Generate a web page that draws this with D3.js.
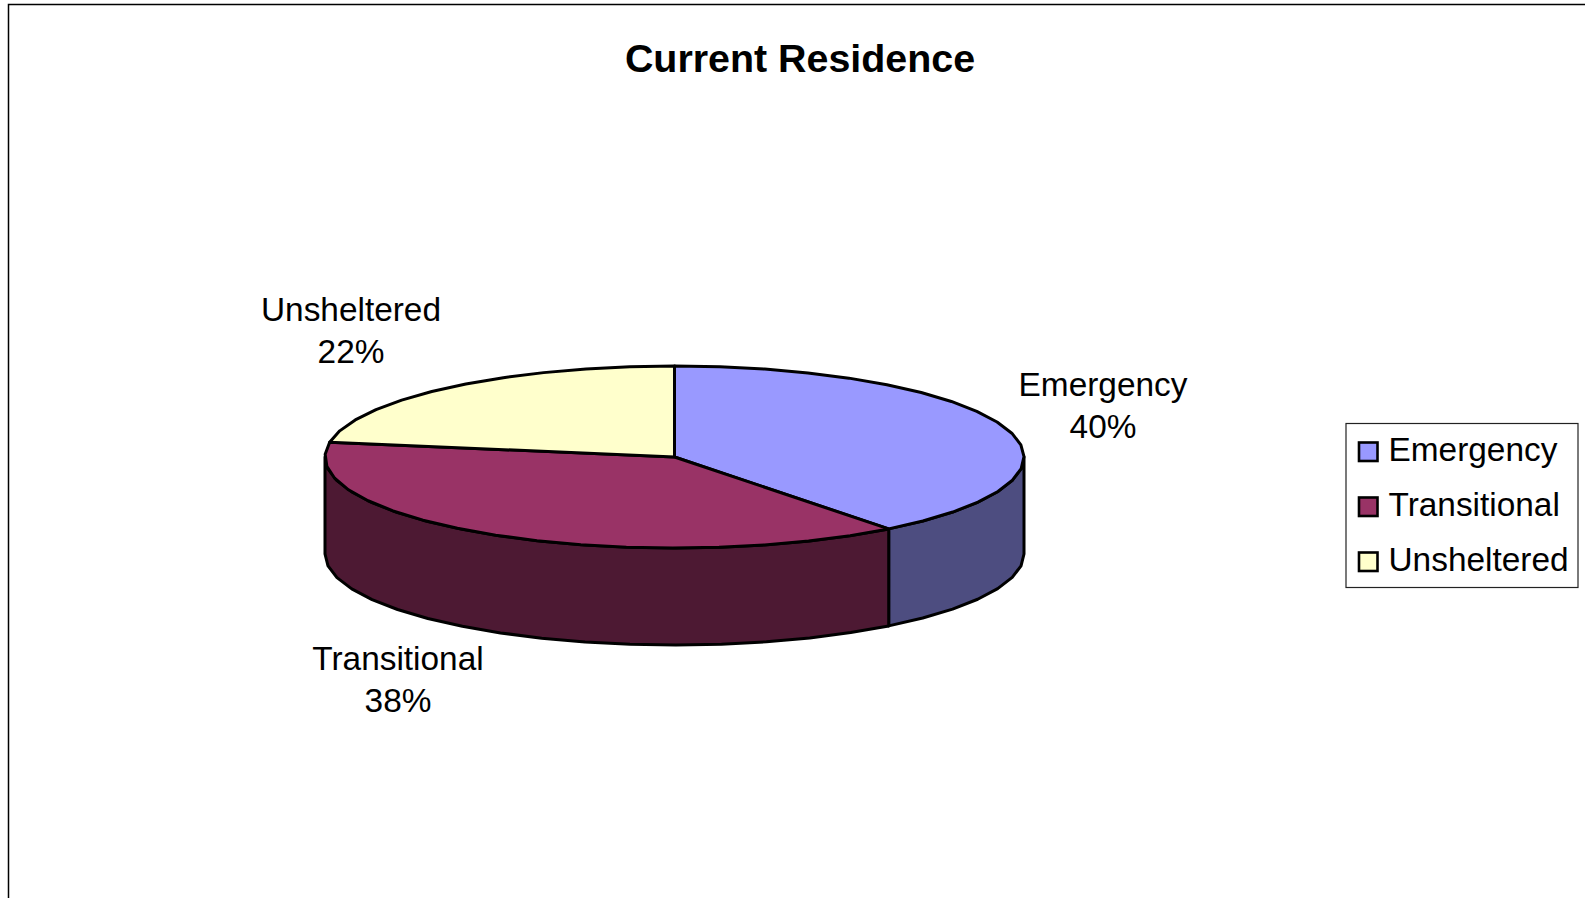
<!DOCTYPE html>
<html>
<head>
<meta charset="utf-8">
<title>Current Residence</title>
<script src="https://cdn.jsdelivr.net/npm/d3@7"></script>
<style>
  html, body { margin: 0; padding: 0; background: #fff; overflow: hidden; }
  text { font-family: "Liberation Sans", Arial, sans-serif; fill: #000; }
</style>
</head>
<body>
<svg id="chart" width="1585" height="898"></svg>
<script>
// values, labels round to 40 / 38 / 22
var categories = ["Emergency", "Transitional", "Unsheltered"];
var shares = [0.395, 0.381, 0.224];
var topColors = ["#9999FF", "#993366", "#FFFFCC"];
var sideColors = ["#4D4D80", "#4D1933", "#80806A"];
var chartTitle = "Current Residence";

var w = 1585, h = 898;
var cx = 674.5, cy = 457, rx = 349.5, ry = 91, depth = 97;
var outline = 3;
var labelSize = 33.4;

var svg = d3.select("#chart");

// page frame, open on the right and the bottom
svg.append("path")
    .attr("d", "M8.5," + h + "V4.5H" + w)
    .attr("fill", "none")
    .attr("stroke", "#000")
    .attr("stroke-width", 1.5);

svg.append("text")
    .attr("x", 800)
    .attr("y", 72)
    .attr("text-anchor", "middle")
    .attr("font-size", 39.4)
    .attr("font-weight", "bold")
    .text(chartTitle);

var color = d3.scaleOrdinal().domain(categories).range(topColors);
var sideColor = d3.scaleOrdinal().domain(categories).range(sideColors);

// the flat pie is squashed onto an ellipse
var xScale = d3.scaleLinear().domain([-1, 1]).range([cx - rx, cx + rx]);
var yScale = d3.scaleLinear().domain([-1, 1]).range([cy - ry, cy + ry]);

var pie = d3.pie().sort(null).value(function(d, i) { return shares[i]; });
var slices = pie(categories);

var line = d3.line()
    .x(function(p) { return xScale(Math.sin(p.a) * p.r); })
    .y(function(p) { return yScale(-Math.cos(p.a) * p.r) + p.dz; });

// coarse steps, the original outline is a polygon
function rim(a0, a1, dz) {
    var n = Math.max(1, Math.round(Math.abs(a1 - a0) / (Math.PI / 24)));
    return d3.range(n + 1).map(function(i) {
        return {a: a0 + (a1 - a0) * i / n, r: 1, dz: dz};
    });
}

// only the part facing the viewer (90deg to 270deg) has a wall
var walls = slices.map(function(s) {
    return {
        name: s.data,
        a0: Math.max(s.startAngle, Math.PI / 2),
        a1: Math.min(s.endAngle, Math.PI * 1.5)
    };
}).filter(function(d) { return d.a1 > d.a0; });

svg.append("g").selectAll("path")
    .data(walls)
    .enter()
    .append("path")
    .attr("d", function(d) {
        return line(rim(d.a0, d.a1, 0).concat(rim(d.a1, d.a0, depth))) + "Z";
    })
    .attr("fill", function(d) { return sideColor(d.name); })
    .attr("stroke", "#000")
    .attr("stroke-width", outline)
    .attr("stroke-linejoin", "round");

svg.append("g").selectAll("path")
    .data(slices)
    .enter()
    .append("path")
    .attr("d", function(s) {
        var pts = [{a: 0, r: 0, dz: 0}].concat(rim(s.startAngle, s.endAngle, 0));
        return line(pts) + "Z";
    })
    .attr("fill", function(s) { return color(s.data); })
    .attr("stroke", "#000")
    .attr("stroke-width", outline)
    .attr("stroke-linejoin", "round");

// data labels, two lines each
var labelPos = {
    Emergency: [1103, 396],
    Transitional: [398, 670],
    Unsheltered: [351, 321]
};
var pct = d3.format(".0%");

var labels = svg.append("g").selectAll("text")
    .data(slices)
    .enter()
    .append("text")
    .attr("text-anchor", "middle")
    .attr("font-size", labelSize);

labels.append("tspan")
    .attr("x", function(s) { return labelPos[s.data][0]; })
    .attr("y", function(s) { return labelPos[s.data][1]; })
    .text(function(s) { return s.data; });

labels.append("tspan")
    .attr("x", function(s) { return labelPos[s.data][0]; })
    .attr("y", function(s) { return labelPos[s.data][1] + 41.5; })
    .text(function(s) { return pct(s.value); });

// legend
var legend = svg.append("g");

legend.append("rect")
    .attr("x", 1346)
    .attr("y", 423.5)
    .attr("width", 232)
    .attr("height", 164)
    .attr("fill", "#fff")
    .attr("stroke", "#222")
    .attr("stroke-width", 1.2);

var legendY = d3.scalePoint().domain(categories).range([453, 563]);

var items = legend.selectAll("g")
    .data(categories)
    .enter()
    .append("g")
    .attr("transform", function(d) { return "translate(0," + legendY(d) + ")"; });

items.append("rect")
    .attr("x", 1359)
    .attr("y", -10.5)
    .attr("width", 18.5)
    .attr("height", 18.5)
    .attr("fill", function(d) { return color(d); })
    .attr("stroke", "#000")
    .attr("stroke-width", 2.6);

items.append("text")
    .attr("x", 1388.5)
    .attr("y", 8)
    .attr("font-size", labelSize)
    .text(function(d) { return d; });
</script>
</body>
</html>
